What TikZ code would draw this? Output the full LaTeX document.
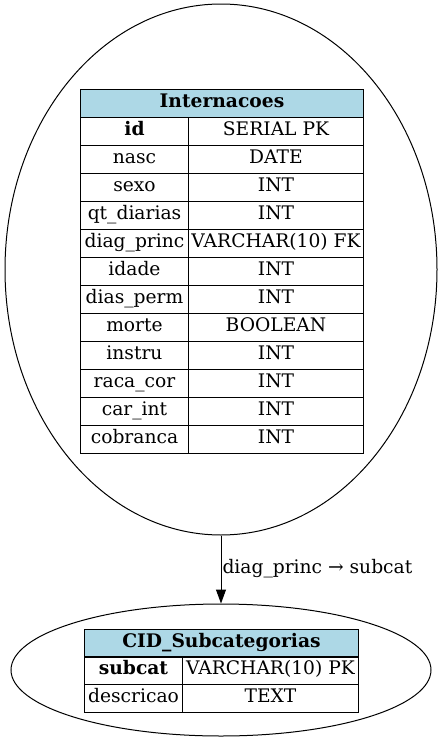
\documentclass[tikz,border=0pt]{standalone}
\usepackage{fontspec}
\setmainfont{DejaVu Serif}
\usetikzlibrary{shapes.geometric,arrows.meta}
\definecolor{hdr}{HTML}{ADD8E6}
\tikzset{
  ent/.style={draw, ellipse, line width=1pt, inner sep=0pt},
  cell/.style={draw, line width=1pt, anchor=north west, inner sep=0pt, minimum height=28pt,
     text height=13pt, text depth=4.5pt, font=\fontsize{18.67}{22}\selectfont},
  hcell/.style={cell, fill=hdr, font=\fontsize{18.67}{22}\selectfont\bfseries},
  rel/.style={draw, line width=1pt, -{Triangle[length=14pt,width=10pt]}},
  lbl/.style={anchor=west, inner sep=0pt, text height=13pt, text depth=4.5pt, font=\fontsize{18.67}{22}\selectfont}
}
\begin{document}
\begin{tikzpicture}[x=1pt,y=-1pt]
\useasboundingbox (0,0) rectangle (442,742);
% top entity
\node[ent, minimum width=432pt, minimum height=531pt] (int) at (221,269.5) {};
\node[hcell, minimum width=283pt] (inth) at (80,89) {Internacoes};
\node[cell, minimum width=108pt, font=\fontsize{18.67}{22}\selectfont\bfseries] (intk1) at (80,117) {id};
\node[cell, minimum width=175pt] (intv1) at (188,117) {SERIAL PK};
\foreach \k/\v [count=\i from 2] in {nasc/DATE, sexo/INT, qt\_diarias/INT, diag\_princ/VARCHAR(10) FK,
   idade/INT, dias\_perm/INT, morte/BOOLEAN, instru/INT, raca\_cor/INT, car\_int/INT, cobranca/INT}{
  \node[cell, minimum width=108pt] (intk\i) at (80,{117+28*(\i-1)}) {\k};
  \node[cell, minimum width=175pt] (intv\i) at (188,{117+28*(\i-1)}) {\v};
}
% bottom entity
\node[ent, minimum width=420pt, minimum height=132pt] (cid) at (221,670) {};
\node[hcell, minimum width=274pt] (cidh) at (84,629) {CID\_Subcategorias};
\node[cell, minimum width=98pt, font=\fontsize{18.67}{22}\selectfont\bfseries] (cidk1) at (84,656) {subcat};
\node[cell, minimum width=176pt] (cidv1) at (182,656) {VARCHAR(10) PK};
\node[cell, minimum width=98pt] (cidk2) at (84,684) {descricao};
\node[cell, minimum width=176pt] (cidv2) at (182,684) {TEXT};
% relation
\draw[rel] (int.south) -- (cid.north) node[midway, lbl, xshift=1pt] (rl) {diag\_princ → subcat};
\end{tikzpicture}
\end{document}
